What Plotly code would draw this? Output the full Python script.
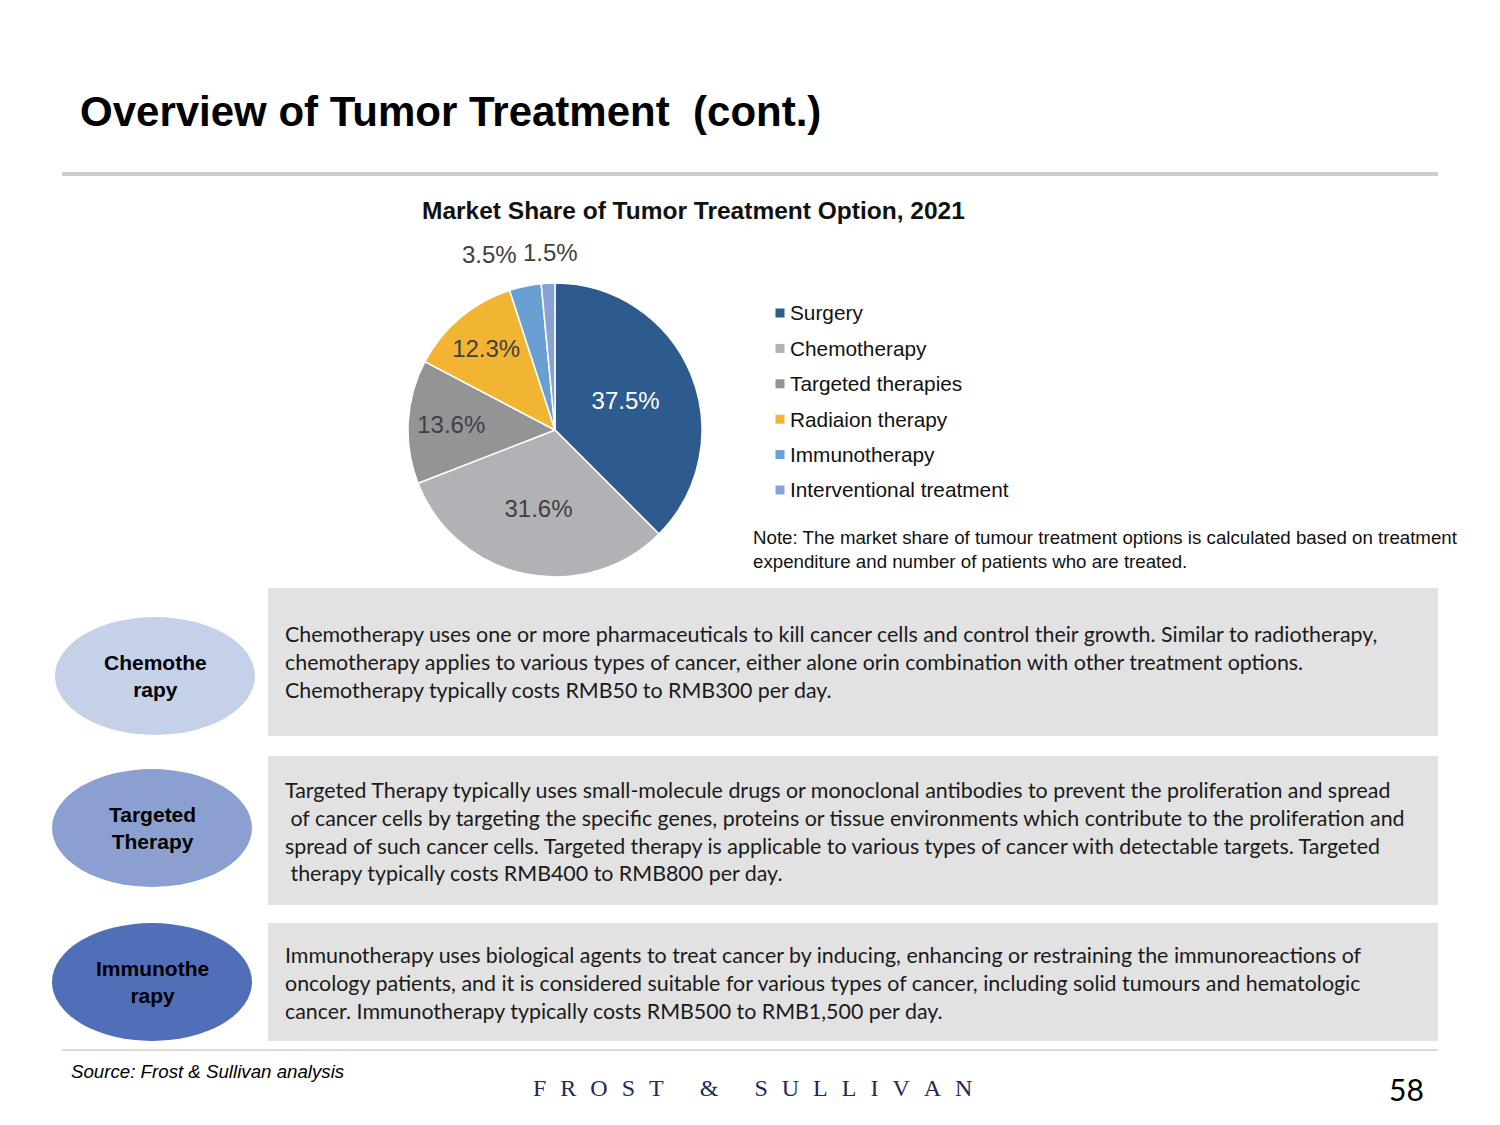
import plotly.graph_objects as go

W, H = 1500, 1125
OFF = 8  # page body margin compensation

# ---------------- data ----------------
categories = ["Surgery", "Chemotherapy", "Targeted therapies", "Radiaion therapy",
              "Immunotherapy", "Interventional treatment"]
shares = [37.5, 31.6, 13.6, 12.3, 3.5, 1.5]
slice_colors = ["#2D5B8E", "#B1B2B5", "#939496", "#F2B533", "#6A9FD3", "#8AA2D3"]
text_colors = ["#FFFFFF", "#404040", "#404040", "#404040", "#404040", "#404040"]
# the two thinnest slices carry their labels above the pie (placed as annotations)
text_positions = ["inside", "inside", "inside", "inside", "none", "none"]
outer_label_xy = {4: (489, 255), 5: (550, 253)}

box_titles = ["Chemothe<br>rapy", "Targeted<br>Therapy", "Immunothe<br>rapy"]
ellipse_colors = ["#C5D0E9", "#8BA0D0", "#506FB8"]
box_texts = [
    "Chemotherapy uses one or more pharmaceuticals to kill cancer cells and control their growth. Similar to radiotherapy,<br>"
    "chemotherapy applies to various types of cancer, either alone orin combination with other treatment options.<br>"
    "Chemotherapy typically costs RMB50 to RMB300 per day.",
    "Targeted Therapy typically uses small-molecule drugs or monoclonal antibodies to prevent the proliferation and spread<br>"
    "\u00a0of cancer cells by targeting the specific genes, proteins or tissue environments which contribute to the proliferation and<br>"
    "spread of such cancer cells. Targeted therapy is applicable to various types of cancer with detectable targets. Targeted<br>"
    "\u00a0therapy typically costs RMB400 to RMB800 per day.",
    "Immunotherapy uses biological agents to treat cancer by inducing, enhancing or restraining the immunoreactions of<br>"
    "oncology patients, and it is considered suitable for various types of cancer, including solid tumours and hematologic<br>"
    "cancer. Immunotherapy typically costs RMB500 to RMB1,500 per day.",
]
box_tops = [588, 756, 923]
box_bottoms = [736, 905, 1041]

title_text = "Overview of Tumor Treatment\u00a0\u00a0(cont.)"
chart_title = "Market Share of Tumor Treatment Option, 2021"
note_text = ("Note: The market share of tumour treatment options is calculated based on treatment<br>"
             "expenditure and number of patients who are treated.")
source_text = "Source: Frost & Sullivan analysis"
page_number = "58"
brand_left, brand_right = "FROST", "SULLIVAN"


def px(x):
    return (x - OFF) / W


def py(y):
    return 1 - (y - OFF) / H


fig = go.Figure()

fig.add_trace(go.Pie(
    labels=categories,
    values=shares,
    sort=False,
    direction="clockwise",
    rotation=0,
    marker=dict(colors=slice_colors, line=dict(color="#FFFFFF", width=1.5)),
    texttemplate="%{value:.1f}%",
    textposition=text_positions,
    insidetextorientation="horizontal",
    textfont=dict(family="Liberation Sans, Arial", size=24, color=text_colors),
    hoverinfo="label+percent",
    domain=dict(x=[px(408), px(702)], y=[py(577), py(283)]),
    showlegend=False,
))

fig.update_layout(
    width=W, height=H,
    margin=dict(l=0, r=0, t=0, b=0),
    paper_bgcolor="white",
    plot_bgcolor="white",
)

shapes = []
annotations = []

# outer labels of the thin slices
for i, (lx, ly) in outer_label_xy.items():
    annotations.append(dict(text=f"{shares[i]:.1f}%", x=px(lx), y=py(ly), xref="paper", yref="paper",
                            xanchor="center", yanchor="middle", showarrow=False,
                            font=dict(family="Liberation Sans, Arial", size=24, color="#404040")))

# legend (square swatch + label)
leg_x, leg_y0, leg_dy = 780, 313, 35.4
for i, (cat, col) in enumerate(zip(categories, slice_colors)):
    yy = leg_y0 + i * leg_dy
    shapes.append(dict(type="rect", xref="paper", yref="paper",
                       x0=px(leg_x - 4.5), x1=px(leg_x + 4.5), y0=py(yy + 4.5), y1=py(yy - 4.5),
                       fillcolor=col, line=dict(width=0)))
    annotations.append(dict(text=cat, x=px(leg_x + 8), y=py(yy), xref="paper", yref="paper",
                            xanchor="left", yanchor="middle", showarrow=False,
                            font=dict(family="Liberation Sans, Arial", size=20.8, color="#111111")))

# title + rule
annotations.append(dict(text=f"<b>{title_text}</b>", x=px(78), y=py(111), xref="paper", yref="paper",
                        xanchor="left", yanchor="middle", showarrow=False,
                        font=dict(family="Liberation Sans, Arial", size=42, color="#000000")))
shapes.append(dict(type="line", xref="paper", yref="paper", x0=px(62), x1=px(1438), y0=py(174), y1=py(174),
                   line=dict(color="#CCCCCC", width=4)))

# chart title
annotations.append(dict(text=f"<b>{chart_title}</b>", x=px(693), y=py(210), xref="paper", yref="paper",
                        xanchor="center", yanchor="middle", showarrow=False,
                        font=dict(family="Liberation Sans, Arial", size=24.5, color="#111111")))

# note
annotations.append(dict(text=note_text, x=px(751), y=py(549), xref="paper", yref="paper",
                        xanchor="left", yanchor="middle", align="left", showarrow=False,
                        font=dict(family="Liberation Sans, Arial", size=18.7, color="#111111")))

# boxes, ellipses
ell_cx = [155, 152, 152]
ell_cy = [676, 828, 982]
for i in range(3):
    shapes.append(dict(type="rect", xref="paper", yref="paper", x0=px(268), x1=px(1438),
                       y0=py(box_bottoms[i]), y1=py(box_tops[i]),
                       fillcolor="#E2E2E2", line=dict(width=0), layer="below"))
    cy = (box_tops[i] + box_bottoms[i]) / 2 + 0.5
    shapes.append(dict(type="circle", xref="paper", yref="paper",
                       x0=px(ell_cx[i] - 100), x1=px(ell_cx[i] + 100),
                       y0=py(ell_cy[i] + 59), y1=py(ell_cy[i] - 59),
                       fillcolor=ellipse_colors[i], line=dict(width=0)))
    annotations.append(dict(text=f"<b>{box_titles[i]}</b>", x=px(ell_cx[i]), y=py(ell_cy[i]), xref="paper",
                            yref="paper", xanchor="center", yanchor="middle", align="center", showarrow=False,
                            font=dict(family="Liberation Sans, Arial", size=21, color="#000000")))
    annotations.append(dict(text=box_texts[i], x=px(283), y=py(cy), xref="paper", yref="paper",
                            xanchor="left", yanchor="middle", align="left", showarrow=False,
                            font=dict(family="Lato, Noto Sans", size=21.4, color="#1A1A1A")))

# footer
shapes.append(dict(type="line", xref="paper", yref="paper", x0=px(62), x1=px(1438), y0=py(1050), y1=py(1050),
                   line=dict(color="#CFCFCF", width=1.5)))
annotations.append(dict(text=f"<i>{source_text}</i>", x=px(69), y=py(1071), xref="paper", yref="paper",
                        xanchor="left", yanchor="middle", showarrow=False,
                        font=dict(family="Liberation Sans, Arial", size=18.7, color="#000000")))
gap = "\u00a0\u00a0\u200a"
brand_spaced = gap.join(brand_left) + "\u00a0" * 6 + "&amp;" + "\u00a0" * 6 + gap.join(brand_right)
annotations.append(dict(text=brand_spaced, x=px(752), y=py(1088), xref="paper", yref="paper",
                        xanchor="center", yanchor="middle", showarrow=False,
                        font=dict(family="Liberation Serif, DejaVu Serif", size=24, color="#1F2A55")))
annotations.append(dict(text=page_number, x=px(1406), y=py(1089), xref="paper", yref="paper",
                        xanchor="center", yanchor="middle", showarrow=False,
                        font=dict(family="Lato, Noto Sans", size=30, color="#000000")))

fig.update_layout(shapes=shapes, annotations=annotations)

fig.write_html("out.html")
